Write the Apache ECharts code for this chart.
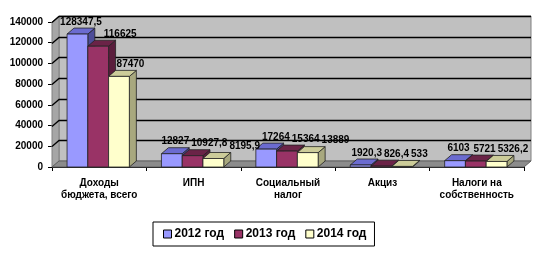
<!DOCTYPE html>
<html>
<head>
<meta charset="utf-8">
<script src="https://cdn.jsdelivr.net/npm/echarts@6/dist/echarts.min.js"></script>
<style>
  html, body { margin: 0; padding: 0; background: #fff; }
  #chart { width: 544px; height: 262px; }
</style>
</head>
<body>
<div id="chart"></div>
<script>
const categories = ['Доходы\nбюджета, всего', 'ИПН', 'Социальный\nналог', 'Акциз', 'Налоги на\nсобственность'];
const years = ['2012 год', '2013 год', '2014 год'];
const values2012 = [128347.5, 12827, 17264, 1920.3, 6103];
const values2013 = [116625, 10927.8, 15364, 826.4, 5721];
const values2014 = [87470, 8195.9, 13889, 533, 5326.2];
const yMin = 0, yMax = 140000, yStep = 20000;

// цвета граней: фронт, верх, бок
const faces = [
  ['#9999FF', '#6b6bd0', '#4d4d99'],
  ['#993366', '#6b2347', '#5a1d3c'],
  ['#FFFFCC', '#cccc99', '#a8a87e']
];
const DX = 7, DY = -6;
const BAR_RATIO = 0.22;
const fontFamily = '"Liberation Sans", Arial, sans-serif';
const font = 'bold 10px ' + fontFamily;
const valueSets = [values2012, values2013, values2014];

var chart = echarts.init(document.getElementById('chart'));

var measureCtx = document.createElement('canvas').getContext('2d');
measureCtx.font = font;

function fmt(v) {
  return String(v).replace('.', ',');
}

// подписи как в Excel: сдвигаем вправо, если налезают на соседние подписи или столбики
function layoutLabels(api) {
  var placed = [];
  var bars = [];
  var res = valueSets.map(function () { return []; });
  var gap = 2;
  for (var cat = 0; cat < categories.length; cat++) {
    for (var idx = 0; idx < valueSets.length; idx++) {
      var v = valueSets[idx][cat];
      var base = api.coord([cat, 0]);
      var top = api.coord([cat, v]);
      var bw = api.size([1, 0])[0] * BAR_RATIO;
      var xl = base[0] + (idx - 1.5) * bw - 1;
      var cx = xl + bw / 2 + DX / 2;
      var cy = top[1] - 12;
      var w = measureCtx.measureText(fmt(v)).width;
      var x = cx - w / 2;
      for (var b = 0; b < bars.length; b++) {
        var r = bars[b];
        if (cy + 6 > r.top && cy - 6 < r.bottom && x < r.x + r.w && x + w > r.x) {
          x = r.x + r.w + 1;
        }
      }
      for (var k = 0; k < placed.length; k++) {
        var p = placed[k];
        if (Math.abs(cy - p.cy) < 14 && x < p.x + p.w + gap && x + w > p.x) {
          x = p.x + p.w + gap;
        }
      }
      placed.push({ x: x, w: w, cy: cy });
      bars.push({ x: xl, w: bw + DX, top: top[1] + DY, bottom: base[1] });
      res[idx][cat] = [x + w / 2, cy];
    }
  }
  return res;
}

// стены и пол "3D"
function renderWalls(params, api) {
  var cs = params.coordSys;
  var x0 = cs.x, x1 = cs.x + cs.width, yTop = cs.y, yBot = cs.y + cs.height;
  var children = [];
  children.push({ type: 'polygon', shape: { points: [[x0 + DX, yTop + DY], [x1 + DX, yTop + DY], [x1 + DX, yBot + DY], [x0 + DX, yBot + DY]] },
    style: { fill: '#c0c0c0', stroke: '#808080', lineWidth: 1 } });
  children.push({ type: 'polygon', shape: { points: [[x0, yTop], [x0 + DX, yTop + DY], [x0 + DX, yBot + DY], [x0, yBot]] },
    style: { fill: '#a6a6a6', stroke: '#808080', lineWidth: 1 } });
  children.push({ type: 'polygon', shape: { points: [[x0, yBot], [x1, yBot], [x1 + DX, yBot + DY], [x0 + DX, yBot + DY]] },
    style: { fill: '#8c8c8c', stroke: '#606060', lineWidth: 1 } });
  for (var t = yMin + yStep; t <= yMax; t += yStep) {
    var y = Math.round(api.coord([0, t])[1]) + 0.5;
    children.push({ type: 'polyline', shape: { points: [[x0, y], [x0 + DX, y + DY], [x1 + DX, y + DY]] },
      style: { fill: null, stroke: '#000', lineWidth: 1.3 } });
  }
  return { type: 'group', children: children };
}

function makeBarRender(idx) {
  return function (params, api) {
    var cat = api.value(0);
    var val = api.value(1);
    var base = api.coord([cat, 0]);
    var top = api.coord([cat, val]);
    var bw = api.size([1, 0])[0] * BAR_RATIO;
    var xl = base[0] + (idx - 1.5) * bw - 1;
    var xr = xl + bw;
    var yt = top[1], yb = base[1];
    var c = faces[idx];
    var st = { stroke: '#222', lineWidth: 0.8 };
    var lp = layoutLabels(api)[idx][cat];
    return {
      type: 'group',
      children: [
        { type: 'polygon', shape: { points: [[xr, yt], [xr + DX, yt + DY], [xr + DX, yb + DY], [xr, yb]] },
          style: Object.assign({ fill: c[2] }, st) },
        { type: 'polygon', shape: { points: [[xl, yt], [xl + DX, yt + DY], [xr + DX, yt + DY], [xr, yt]] },
          style: Object.assign({ fill: c[1] }, st) },
        { type: 'rect', shape: { x: xl, y: yt, width: bw, height: yb - yt },
          style: Object.assign({ fill: c[0] }, st) },
        { type: 'text', x: lp[0], y: lp[1], z2: 10,
          style: { text: fmt(val), font: font, fill: '#000', align: 'center', verticalAlign: 'middle' } }
      ]
    };
  };
}

function seriesData(values) {
  return values.map(function (v, i) { return [i, v]; });
}

var series = [{
  type: 'custom',
  name: 'walls',
  renderItem: renderWalls,
  data: [[0, 0]],
  silent: true,
  z: 1
}];
years.forEach(function (name, i) {
  series.push({
    type: 'custom',
    name: name,
    renderItem: makeBarRender(i),
    itemStyle: { color: faces[i][0], borderColor: '#000', borderWidth: 1 },
    data: seriesData(valueSets[i]),
    z: 2
  });
});

var option = {
  animation: false,
  grid: { left: 52, right: 20, top: 22, bottom: 95 },
  legend: {
    data: years,
    left: 153,
    top: 222,
    width: 214,
    orient: 'horizontal',
    icon: 'rect',
    itemWidth: 8,
    itemHeight: 8,
    itemGap: 10,
    padding: [6, 8, 6, 10],
    borderColor: '#000',
    borderWidth: 1,
    itemStyle: { borderColor: '#000', borderWidth: 1 },
    textStyle: { fontFamily: fontFamily, fontWeight: 'bold', fontSize: 12, color: '#000', padding: [0, 0, 0, -2] }
  },
  xAxis: {
    type: 'category',
    data: categories,
    boundaryGap: true,
    axisLine: { lineStyle: { color: '#000', width: 1 } },
    axisTick: { show: true, length: 4, lineStyle: { color: '#000' } },
    axisLabel: {
      color: '#000', fontSize: 10, fontWeight: 'bold', lineHeight: 12, margin: 10,
      fontFamily: fontFamily, interval: 0
    },
    splitLine: { show: false }
  },
  yAxis: {
    type: 'value',
    min: yMin,
    max: yMax,
    interval: yStep,
    axisLine: { show: true, lineStyle: { color: '#000', width: 1 } },
    axisTick: { show: true, length: 4, lineStyle: { color: '#000' } },
    axisLabel: {
      color: '#000', fontSize: 10, fontWeight: 'bold', margin: 9,
      fontFamily: fontFamily,
      formatter: function (v) { return String(v); }
    },
    splitLine: { show: false }
  },
  series: series
};

chart.setOption(option);
</script>
</body>
</html>
